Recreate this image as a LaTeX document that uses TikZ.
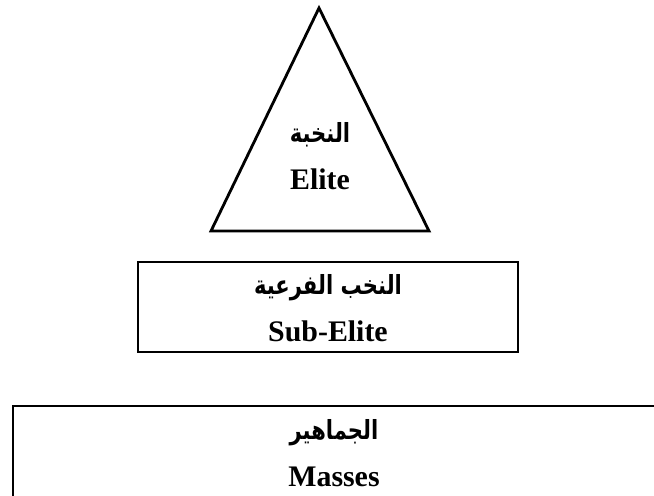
\documentclass[tikz,border=0pt]{standalone}
\usepackage{fontspec}
\setmainfont{Liberation Serif}
\newfontfamily\arabicfont[Script=Arabic,FakeStretch=0.8]{DejaVu Sans}
\TeXXeTstate=1
\usetikzlibrary{positioning}

\tikzset{
  layer/.style={draw, line width=1.6pt, line join=miter},
  tier/.style={align=center, inner sep=0pt, font=\bfseries\fontsize{17}{27}\selectfont},
}
\newcommand{\ar}[1]{{\arabicfont\fontsize{15}{27}\selectfont\beginR #1\endR}}

\begin{document}
\begin{tikzpicture}[x=0.02cm,y=-0.02cm]
\useasboundingbox (0,0) rectangle (654,495);
\clip (0,0) rectangle (654,495);

\coordinate (T1) at (319,8);
\coordinate (T2) at (211,231);
\coordinate (T3) at (429,231);

\draw[layer] (T1) -- (T2) -- (T3) -- cycle;
\draw[layer] (138,262) rectangle (518,352);
\draw[layer] (13,406) rectangle (660,510);

\node[tier] (elite) at (320,156) {\ar{النخبة}\\Elite};
\node[tier] (subelite) at (328,308) {\ar{النخب الفرعية}\\Sub-Elite};
\node[tier] (masses) at (334,453) {\ar{الجماهير}\\Masses};
\end{tikzpicture}
\end{document}
